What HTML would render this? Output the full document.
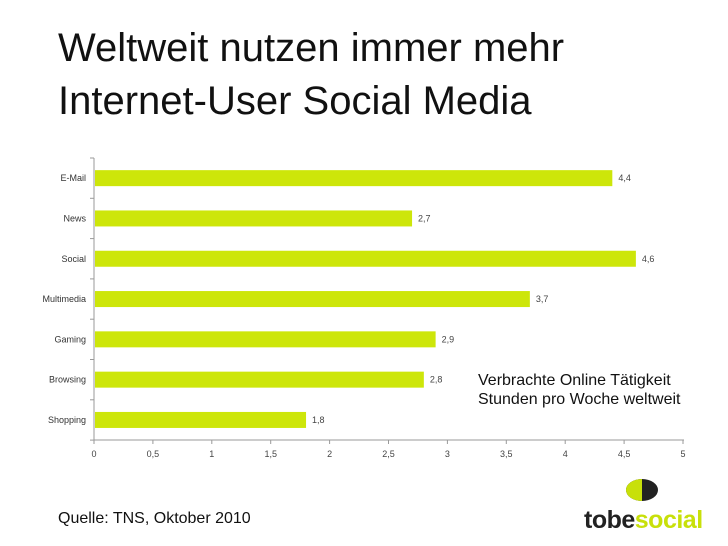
<!DOCTYPE html>
<html><head><meta charset="utf-8"><style>
body{margin:0;width:728px;height:546px;background:#fff;overflow:hidden;position:relative;font-family:"Liberation Sans",sans-serif}
.t{position:absolute;left:58px;top:22px;font-size:40px;line-height:53px;color:#111;white-space:nowrap}
.note{position:absolute;left:478px;top:371px;font-size:16px;line-height:19px;color:#111;white-space:nowrap}
.src{position:absolute;left:58px;top:510px;font-size:16px;color:#111}
</style></head><body>
<div class="t">Weltweit nutzen immer mehr<br>Internet-User Social Media</div>
<svg width="728" height="546" style="position:absolute;left:0;top:0">
<g id="g"></g>
<g>
<ellipse cx="642" cy="490" rx="16" ry="11" fill="#222"/>
<path d="M642 479 A16 11 0 0 0 642 501 Z" fill="#c8e00a"/>
<text x="584" y="528" font-size="25" font-weight="bold" fill="#222" font-family="Liberation Sans,sans-serif" letter-spacing="-0.5">tobe<tspan fill="#c8e00a">social</tspan></text>
</g>
</svg>
<div class="note">Verbrachte Online Tätigkeit<br>Stunden pro Woche weltweit</div>
<div class="src">Quelle: TNS, Oktober 2010</div>
<script>
const categories=["E-Mail","News","Social","Multimedia","Gaming","Browsing","Shopping"];
const values=[4.4,2.7,4.6,3.7,2.9,2.8,1.8];
const valueLabels=["4,4","2,7","4,6","3,7","2,9","2,8","1,8"];
const ticks=[0,0.5,1,1.5,2,2.5,3,3.5,4,4.5,5];
const tickLabels=["0","0,5","1","1,5","2","2,5","3","3,5","4","4,5","5"];
const NS="http://www.w3.org/2000/svg",g=document.getElementById('g');
const x=v=>94+v*117.8, yTop=158, step=40.3, base=440;
const y=i=>yTop+step*i+step/2;
function el(t,a){const e=document.createElementNS(NS,t);for(const k in a)e.setAttribute(k,a[k]);g.appendChild(e);return e;}
let ax=el('line',{x1:94,y1:yTop,x2:94,y2:base,stroke:'#999'});


let bx=el('line',{x1:94,y1:base,x2:684,y2:base,stroke:'#999'});


for(let i=0;i<=categories.length;i++){el('line',{x1:90,y1:yTop+step*i,x2:94,y2:yTop+step*i,stroke:'#999'});}
ticks.forEach((t,i)=>{el('line',{x1:x(t),y1:base,x2:x(t),y2:base+4,stroke:'#999'});
let tx=el('text',{x:x(t),y:base+17,'font-size':9,'text-anchor':'middle',fill:'#444'});tx.textContent=tickLabels[i];

});
categories.forEach((c,i)=>{
let r=el('rect',{x:95,y:y(i)-8,width:x(values[i])-95,height:16,fill:'#cde60a'});


let l=el('text',{x:86,y:y(i)+3,'font-size':9,'text-anchor':'end',fill:'#333'});l.textContent=c;


let v=el('text',{x:x(values[i])+6,y:y(i)+3,'font-size':9,fill:'#444'});v.textContent=valueLabels[i];


});
</script>
</body></html>
